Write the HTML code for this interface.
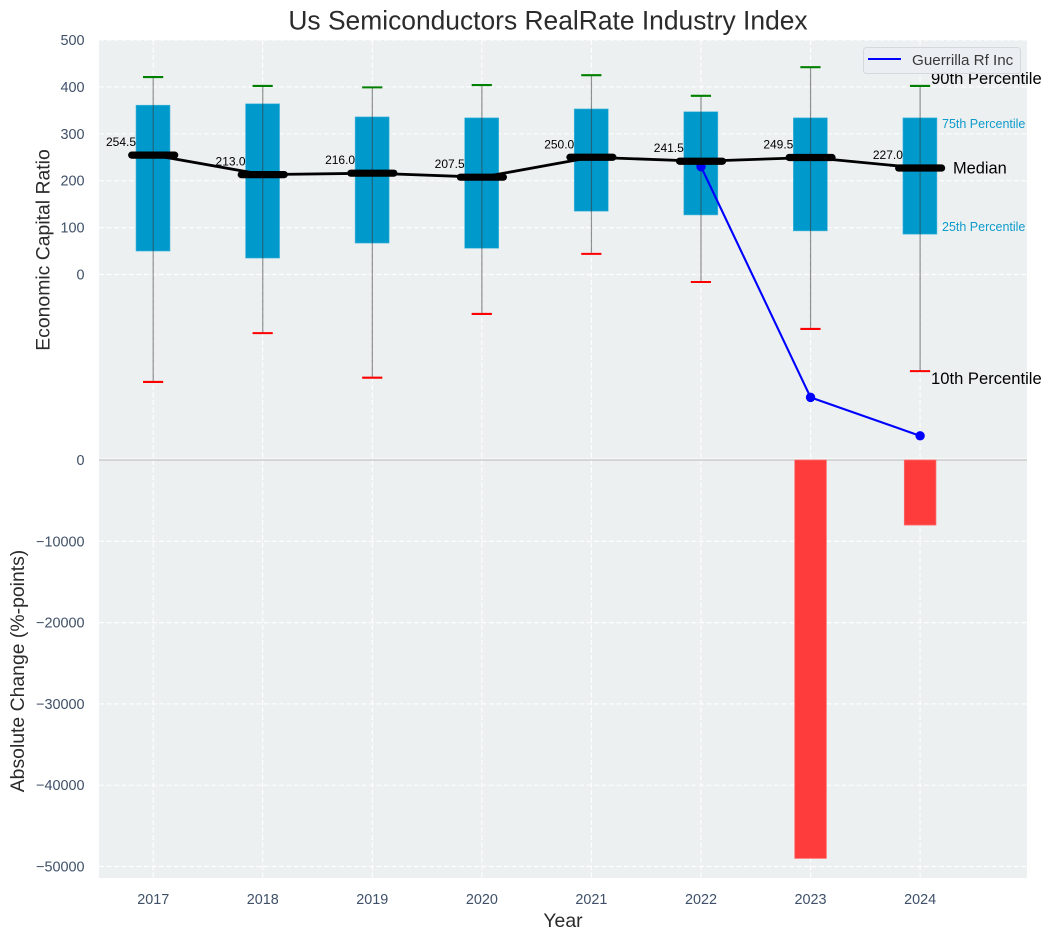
<!DOCTYPE html>
<html lang="en">
<head>
<meta charset="utf-8">
<title>Us Semiconductors RealRate Industry Index</title>
<style>
html,body{margin:0;padding:0;background:#fff;}
body{width:1051px;height:940px;overflow:hidden;}
svg{display:block;font-family:"Liberation Sans",Arial,sans-serif;}
</style>
</head>
<body>
<svg id="chart" xmlns="http://www.w3.org/2000/svg" width="1051" height="940" viewBox="0 0 1051 940">
  <rect x="99" y="40" width="928" height="838" fill="#ecf0f1"/>
  <g id="grid"></g>
  <g id="bars"></g>
  <g id="boxes"></g>
  <g id="company"></g>
  <g id="medians"></g>
  <g id="ticks"></g>
  <text x="548" y="29.5" text-anchor="middle" font-size="26.4" fill="#2b2b2b">Us Semiconductors RealRate Industry Index</text>
  <text transform="translate(49.5,250) rotate(-90)" text-anchor="middle" font-size="19.4" fill="#2b2b2b">Economic Capital Ratio</text>
  <text transform="translate(24,671) rotate(-90)" text-anchor="middle" font-size="19.4" fill="#2b2b2b">Absolute Change (%-points)</text>
  <text x="563" y="927" text-anchor="middle" font-size="19.4" fill="#2b2b2b">Year</text>
  <g>
    <text x="931" y="84" font-size="16.6" fill="#000">90th Percentile</text>
    <text x="942" y="128" font-size="12.5" fill="#0f9bcb">75th Percentile</text>
    <text x="953" y="173.5" font-size="16.4" fill="#000">Median</text>
    <text x="942" y="231" font-size="12.5" fill="#0f9bcb">25th Percentile</text>
    <text x="931" y="384" font-size="16.6" fill="#000">10th Percentile</text>
  </g>
  <g>
    <rect x="863.5" y="47.5" width="157" height="26" rx="3" fill="#ebedf2" fill-opacity="0.9" stroke="#d5d8dc"/>
    <line x1="868" y1="59" x2="901" y2="59" stroke="#0000ff" stroke-width="2"/>
    <text x="912" y="65" font-size="15.2" fill="#3a3a3a">Guerrilla Rf Inc</text>
  </g>
</svg>
<script>
const years = [2017, 2018, 2019, 2020, 2021, 2022, 2023, 2024];
const p90 = [421, 402, 399, 404, 425, 381, 442, 402];
const p75 = [361, 364, 336, 334, 353, 347, 334, 334];
const medianValues = [254.5, 213.0, 216.0, 207.5, 250.0, 241.5, 249.5, 227.0];
const p25 = [50, 35, 67, 56, 135, 127, 93, 86];
const p10 = [-229, -125, -220, -84, 44, -16, -116, -206];
const companyYears = [2022, 2023, 2024];
const companyValues = [230, -262, -344];
const changeYears = [2023, 2024];
const changeValues = [-49000, -8000];
const upperTicks = [0, 100, 200, 300, 400, 500];
const lowerTicks = [0, -10000, -20000, -30000, -40000, -50000];

const NS = 'http://www.w3.org/2000/svg';
function xPos(year) { return 153.2 + (year - 2017) * 109.56; }
function yUpper(v) { return 274.5 - v * 0.469; }
function yLower(v) { return 460 - v * 0.00813; }
function make(parent, tag, attrs, text) {
  const el = document.createElementNS(NS, tag);
  for (const k in attrs) el.setAttribute(k, attrs[k]);
  if (text !== undefined) el.textContent = text;
  document.getElementById(parent).appendChild(el);
  return el;
}
function fmtLower(v) { return v < 0 ? '\u2212' + Math.abs(v) : String(v); }

const GRID = { stroke: '#ffffff', 'stroke-width': 1.2, 'stroke-dasharray': '5 2.5', 'stroke-opacity': 0.9 };

years.forEach(function (yr) {
  const v = make('grid', 'line', Object.assign({ x1: xPos(yr), x2: xPos(yr), y1: 40, y2: 878 }, GRID));
  
  
  const t = make('ticks', 'text', { x: xPos(yr), y: 904, 'text-anchor': 'middle', 'font-size': 14.4, fill: '#3f5068' }, String(yr));
  
  
});

upperTicks.forEach(function (v) {
  const y = yUpper(v);
  const g = make('grid', 'line', Object.assign({ x1: 99, x2: 1027, y1: y, y2: y }, GRID));
  
  
  const t = make('ticks', 'text', { x: 84.5, y: y + 5, 'text-anchor': 'end', 'font-size': 14.4, fill: '#3f5068' }, String(v));
  
  
});

lowerTicks.forEach(function (v) {
  const y = yLower(v);
  const g = make('grid', 'line', Object.assign({ x1: 99, x2: 1027, y1: y, y2: y }, GRID));
  
  
  const t = make('ticks', 'text', { x: 84.5, y: y + 5, 'text-anchor': 'end', 'font-size': 14.4, fill: '#3f5068' }, fmtLower(v));
  
  
});

const zeroWhite = make('grid', 'line', { x1: 99, x2: 1027, y1: yLower(0) - 1, y2: yLower(0) - 1, stroke: '#ffffff', 'stroke-width': 1 });


const zeroLine = make('bars', 'line', { x1: 99, x2: 1027, y1: yLower(0), y2: yLower(0), stroke: '#bfc1c3', 'stroke-width': 1.2 });



changeYears.forEach(function (yr, i) {
  const y = yLower(changeValues[i]);
  const bar = make('bars', 'rect', { x: xPos(yr) - 15.8, y: yLower(0), width: 31.6, height: y - yLower(0), fill: '#ff3c3c', stroke: '#ff6a6a', 'stroke-width': 0.8 });
  
  
});

years.forEach(function (yr, i) {
  const x = xPos(yr);
  const box = make('boxes', 'rect', { x: x - 17.2, y: yUpper(p75[i]), width: 34, height: yUpper(p25[i]) - yUpper(p75[i]), fill: '#0099cc', stroke: '#4db8db', 'stroke-width': 0.6 });
  
  
  const whisker = make('boxes', 'line', { x1: x, x2: x, y1: yUpper(p90[i]), y2: yUpper(p10[i]), stroke: '#3a3a3a', 'stroke-opacity': 0.55, 'stroke-width': 1.2 });
  
  
  const capHigh = make('boxes', 'line', { x1: x - 10.2, x2: x + 10, y1: yUpper(p90[i]), y2: yUpper(p90[i]), stroke: '#008000', 'stroke-width': 2.1 });
  
  
  const capLow = make('boxes', 'line', { x1: x - 10.2, x2: x + 10, y1: yUpper(p10[i]), y2: yUpper(p10[i]), stroke: '#ff0000', 'stroke-width': 2.1 });
  
  
});

const companyPts = companyYears.map(function (yr, i) { return xPos(yr) + ',' + yUpper(companyValues[i]); }).join(' ');
const companyLine = make('company', 'polyline', { points: companyPts, fill: 'none', stroke: '#0000ff', 'stroke-width': 2.1 });


companyYears.forEach(function (yr, i) {
  const dot = make('company', 'circle', { cx: xPos(yr), cy: yUpper(companyValues[i]), r: 4.7, fill: '#0000ff' });
  
  
});

const medianPts = years.map(function (yr, i) { return xPos(yr) + ',' + yUpper(medianValues[i]); }).join(' ');
const medianLine = make('medians', 'polyline', { points: medianPts, fill: 'none', stroke: '#000000', 'stroke-width': 2.8 });


years.forEach(function (yr, i) {
  const x = xPos(yr);
  const y = yUpper(medianValues[i]);
  const bar = make('medians', 'line', { x1: x - 21.5, x2: x + 21.5, y1: y, y2: y, stroke: '#000000', 'stroke-width': 7.2, 'stroke-linecap': 'round' });
  
  
  const label = make('medians', 'text', { x: x - 17.2, y: y - 9, 'text-anchor': 'end', 'font-size': 12, fill: '#000000' }, medianValues[i].toFixed(1));
  
  
});
</script>
</body>
</html>
